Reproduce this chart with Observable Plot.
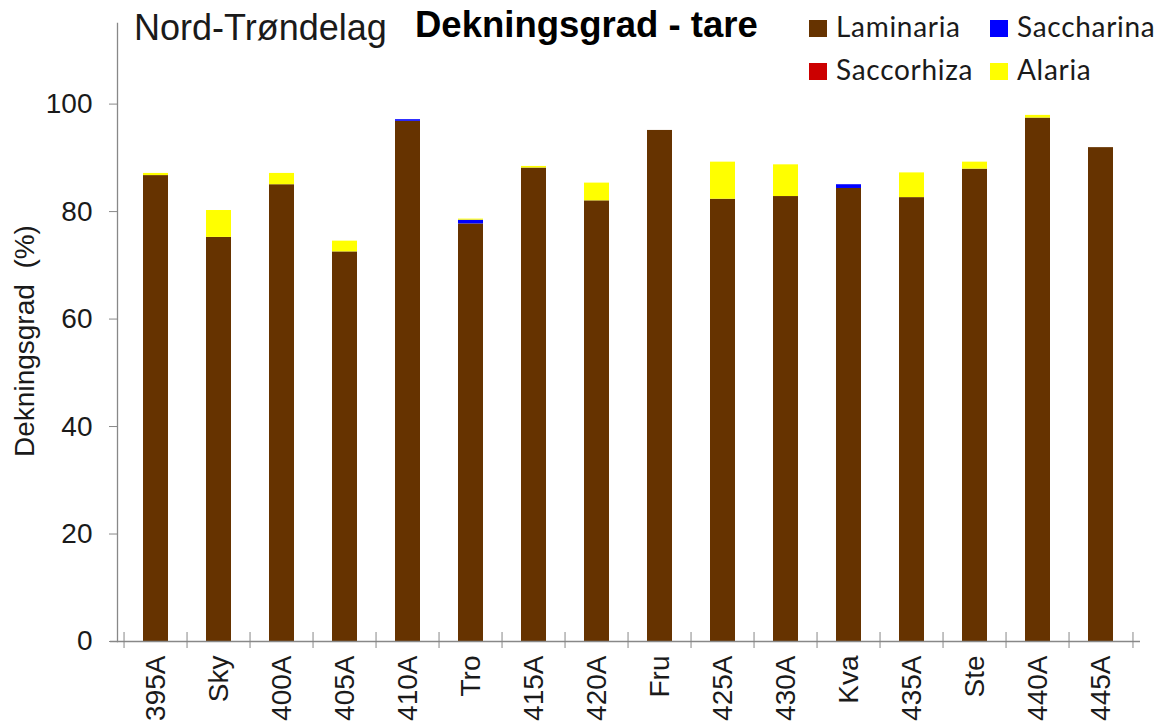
<!DOCTYPE html>
<html><head><meta charset="utf-8">
<script src="https://cdn.jsdelivr.net/npm/d3@7"></script>
<script src="https://cdn.jsdelivr.net/npm/@observablehq/plot@0.6"></script>
<style>
body{margin:0;background:#fff;}
#wrap{position:relative;width:1161px;height:722px;overflow:hidden;}
</style></head><body>
<div id="wrap"></div>
<script>
const sites = ["395A","Sky","400A","405A","410A","Tro","415A","420A","Fru","425A","430A","Kva","435A","Ste","440A","445A"];
const laminaria  = [86.7, 75.2, 85.0, 72.5, 96.8, 77.7, 88.1, 82.0, 95.1, 82.3, 82.8, 84.3, 82.6, 87.9, 97.4, 91.9];
const saccharina = [0, 0, 0, 0, 0.3, 0.7, 0, 0, 0, 0, 0, 0.7, 0, 0, 0, 0];
const saccorhiza = [0, 0, 0, 0, 0, 0, 0, 0, 0, 0, 0, 0, 0, 0, 0, 0];
const alaria     = [0.4, 5.0, 2.1, 2.0, 0, 0.2, 0.3, 3.3, 0, 6.9, 5.9, 0, 4.6, 1.3, 0.5, 0];
const speciesNames = ["Laminaria","Saccharina","Saccorhiza","Alaria"];
const speciesColors = ["#663300","#0000ff","#cc0000","#ffff00"];
const yTicks = [0,20,40,60,80,100];
const regionLabel = "Nord-Trøndelag";
const titleText = "Dekningsgrad - tare";
const yLabel = "Dekningsgrad  (%)";

const seriesValues = [laminaria, saccharina, saccorhiza, alaria];
const rows = [];
speciesNames.forEach((sp, k) => sites.forEach((s, i) => rows.push({site: s, species: sp, value: seriesValues[k][i]})));

const W = 1161, H = 722, mL = 117, mR = 21, mT = 23, mB = 81;
const step = (W - mL - mR) / sites.length;
const axisGray = "#888";
const textCol = "#1a1a1a";

const chart = Plot.plot({
  width: W, height: H, marginLeft: mL, marginRight: mR, marginTop: mT, marginBottom: mB,
  style: {fontFamily: "Liberation Sans, Arial, sans-serif", background: "#fff", overflow: "visible"},
  x: {domain: sites, paddingInner: 0.6, paddingOuter: 0.3},
  y: {domain: [0, 115]},
  color: {domain: speciesNames, range: speciesColors},
  marks: [
    Plot.barY(rows, {x: "site", y: "value", fill: "species"}),
    Plot.frame({anchor: "left", stroke: axisGray, strokeWidth: 1.3}),
    Plot.ruleY([0], {stroke: axisGray, strokeWidth: 1.3, insetLeft: -7}),
    Plot.axisY(yTicks, {tickSize: 8, tickPadding: 17, fontSize: 28, stroke: axisGray, fill: textCol, label: null}),
    Plot.axisX(sites, {tickSize: 16, dx: -step / 2, dy: -9, fill: "none", stroke: axisGray, label: null}),
    Plot.axisX([sites[sites.length - 1]], {tickSize: 16, dx: step / 2, dy: -9, fill: "none", stroke: axisGray, label: null}),
    Plot.axisX(sites, {tickSize: 0, tickPadding: 14, tickRotate: -90, fontSize: 28, fill: textCol, label: null})
  ]
});
document.getElementById("wrap").appendChild(chart);

const svg = d3.select(chart);
svg.append("text").attr("transform", "translate(34,341) rotate(-90)")
  .attr("text-anchor", "middle").attr("font-size", 28).attr("fill", textCol)
  .attr("font-family", "Liberation Sans, Arial, sans-serif").style("white-space", "pre").text(yLabel);
svg.append("text").attr("x", 134).attr("y", 40).attr("text-anchor", "start").attr("font-size", 36).attr("fill", textCol)
  .attr("font-family", "Liberation Sans, Arial, sans-serif").text(regionLabel);
svg.append("text").attr("x", 415).attr("y", 37).attr("text-anchor", "start").attr("font-size", 36.5).attr("font-weight", "bold").attr("fill", "#000")
  .attr("font-family", "Liberation Sans, Arial, sans-serif").text(titleText);

const legX = [809, 990], legY = [20, 63];
speciesNames.forEach((sp, k) => {
  const cx = legX[k % 2], cy = legY[Math.floor(k / 2)];
  svg.append("rect").attr("x", cx).attr("y", cy).attr("width", 18).attr("height", 17).attr("fill", speciesColors[k]);
  svg.append("text").attr("x", cx + 27).attr("y", cy + 17).attr("text-anchor", "start").attr("font-size", 28).attr("fill", textCol)
    .attr("font-family", "Lato, sans-serif").attr("letter-spacing", 0.7).text(sp);
});
</script>
</body></html>
